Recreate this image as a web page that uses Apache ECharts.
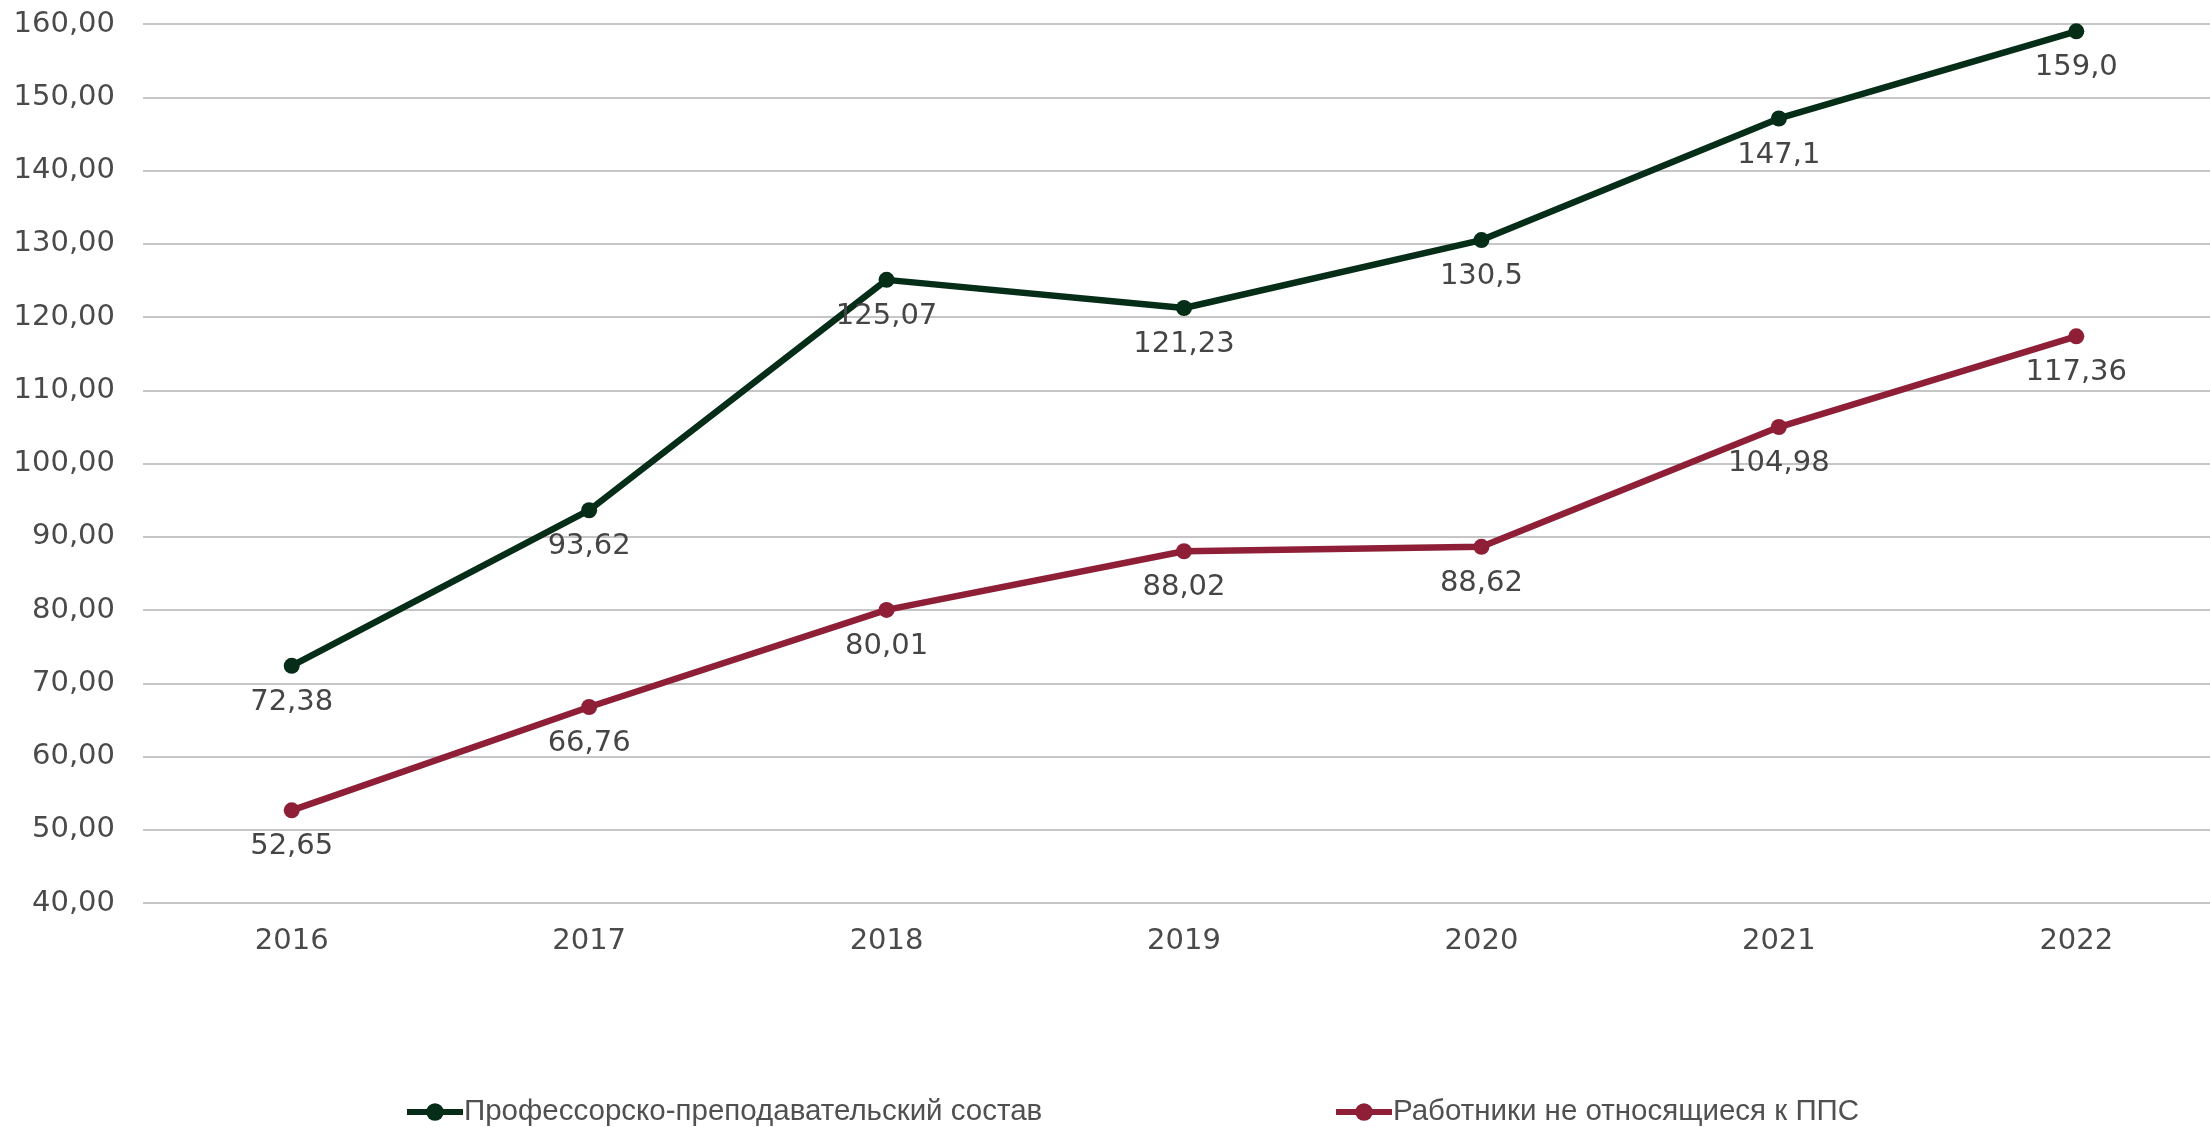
<!DOCTYPE html>
<html>
<head>
<meta charset="utf-8">
<style>
  html, body { margin: 0; padding: 0; background: #fff; }
  #chart { width: 2210px; height: 1127px; }
</style>
<script src="https://cdn.jsdelivr.net/npm/echarts@6/dist/echarts.min.js"></script>
</head>
<body>
<div id="chart"></div>
<script>
const years = ['2016', '2017', '2018', '2019', '2020', '2021', '2022']

// ППС
const ppsValues = [72.38, 93.62, 125.07, 121.23, 130.5, 147.1, 159.0]
const ppsLabels = ['72,38', '93,62', '125,07', '121,23', '130,5', '147,1', '159,0']

// не ППС
const otherValues = [52.65, 66.76, 80.01, 88.02, 88.62, 104.98, 117.36]
const otherLabels = ['52,65', '66,76', '80,01', '88,02', '88,62', '104,98', '117,36']

const ppsName = 'Профессорско-преподавательский состав'
const otherName = 'Работники не относящиеся к ППС'

const textFont = '"DejaVu Sans", Verdana, sans-serif'
const legendFont = '"Liberation Sans Narrow", "Liberation Sans", sans-serif'

function lineSeries(name, values, labels, color) {
  return {
    name: name,
    type: 'line',
    data: values,
    symbol: 'circle',
    symbolSize: 16,
    lineStyle: { color: color, width: 6.5 },
    itemStyle: { color: color },
    label: {
      show: true,
      position: 'bottom',
      distance: 14,
      fontFamily: textFont,
      fontSize: 29,
      color: '#454545',
      formatter: p => labels[p.dataIndex]
    }
  }
}

function legendItem(name, left) {
  return {
    data: [name],
    left: left,
    top: 1097,
    padding: 0,
    itemWidth: 56,
    itemHeight: 22,
    lineStyle: { width: 6 },
    textStyle: { fontFamily: legendFont, fontSize: 29.5, color: '#505050', padding: [0, 0, 0, -4] }
  }
}

const chart = echarts.init(document.getElementById('chart'))

chart.setOption({
  animation: false,
  grid: { left: 143, top: 24, width: 2082, bottom: 224, outerBoundsMode: 'none', containLabel: false },
  legend: [legendItem(ppsName, 404), legendItem(otherName, 1333)],
  xAxis: {
    type: 'category',
    data: years,
    axisLine: { show: false },
    axisTick: { show: false },
    axisLabel: { margin: 24, fontFamily: textFont, fontSize: 29, color: '#4a4a4a' }
  },
  yAxis: {
    type: 'value',
    min: 40,
    max: 160,
    interval: 10,
    axisLabel: {
      margin: 28,
      fontFamily: textFont,
      fontSize: 29,
      color: '#4a4a4a',
      formatter: v => v.toFixed(2).replace('.', ',')
    },
    splitLine: { lineStyle: { color: '#c6c6c6', width: 2 } }
  },
  series: [
    lineSeries(ppsName, ppsValues, ppsLabels, '#062d18'),
    lineSeries(otherName, otherValues, otherLabels, '#8e1f37')
  ]
})
</script>
</body>
</html>
